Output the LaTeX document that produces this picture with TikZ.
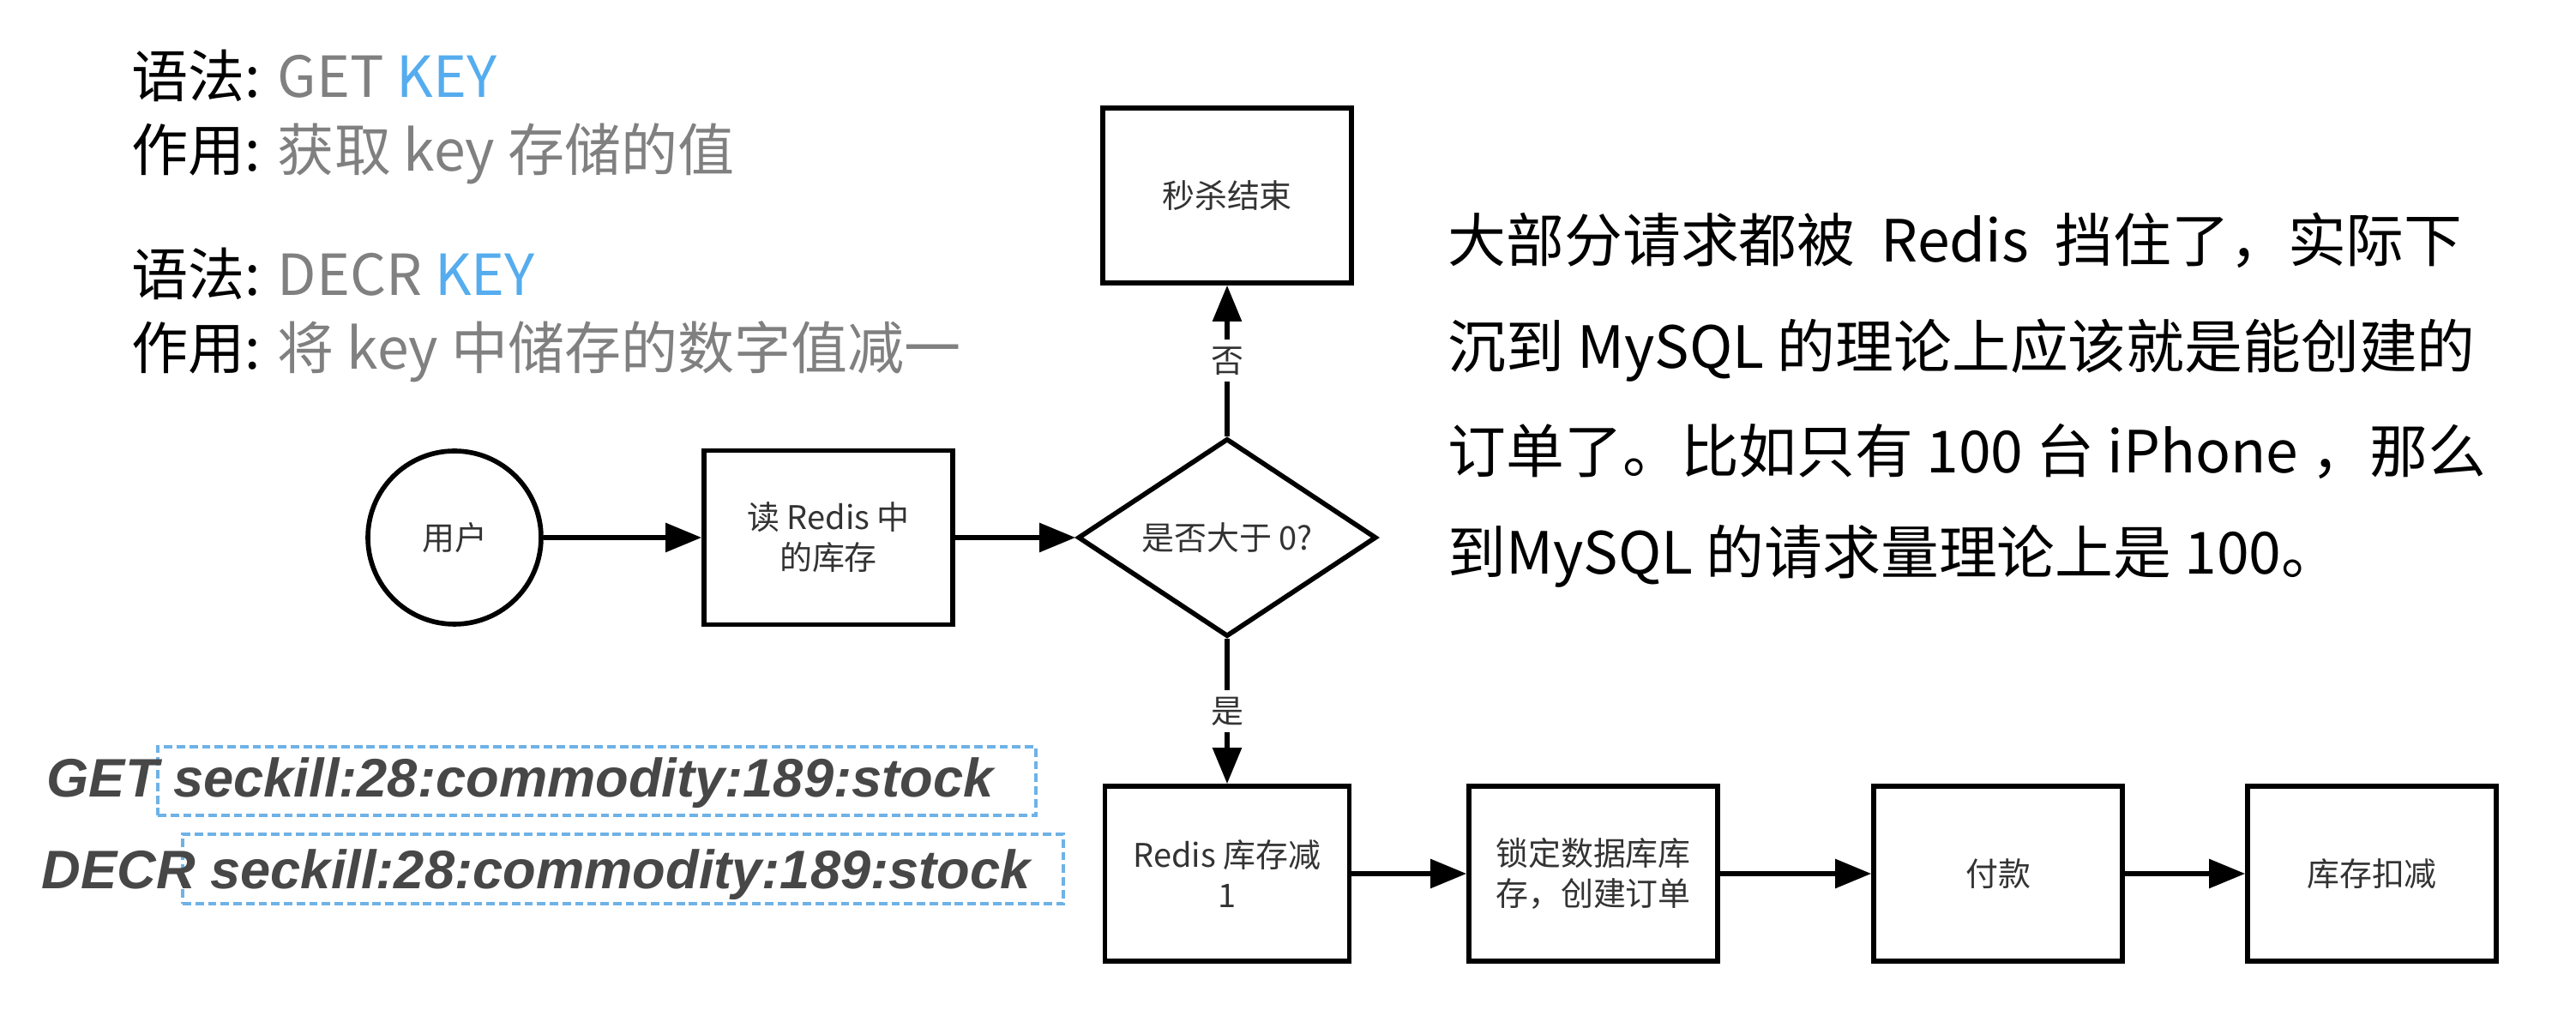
\documentclass[tikz,border=0pt]{standalone}
\usepackage{fontspec}
\setmainfont{Noto Sans CJK SC}
\newfontfamily\codefont{Liberation Sans}
\usetikzlibrary{shapes.geometric, arrows.meta}
\definecolor{keyblue}{RGB}{85,172,238}
\definecolor{dashblue}{RGB}{110,178,230}
\definecolor{txtgray}{RGB}{128,128,128}
\definecolor{boxtext}{RGB}{51,51,51}

\begin{document}
\begin{tikzpicture}[
		flowbox/.style={draw, line width=1.6pt, minimum width=2.9cm, minimum height=2.04cm, align=center, text=boxtext, font=\fontsize{10.8}{13.4}\selectfont},
		flowarrow/.style={line width=1.6pt, -{Triangle[length=0.42cm, width=0.33cm]}},
		keybox/.style={draw=dashblue, line width=0.9pt, dash pattern=on 2.8pt off 1.4pt, inner sep=0pt},
		note/.style={anchor=base west, inner sep=0pt, font=\fontsize{18.8}{18.8}\selectfont},
		para/.style={anchor=base west, inner sep=0pt, font=\fontsize{19.3}{19.3}\selectfont},
		cmd/.style={anchor=base west, inner sep=0pt, text=black!72, font=\codefont\bfseries\itshape\fontsize{18}{18}\selectfont}
	]
	\useasboundingbox (0,0) rectangle (30.04,11.92);

	% syntax notes
	\node[note] (syntax1) at (1.53,10.78) {语法: \textcolor{txtgray}{GET} \textcolor{keyblue}{KEY}};
	\node[note] (usage1) at (1.53,9.92) {作用: \textcolor{txtgray}{获取 key 存储的值}};
	\node[note] (syntax2) at (1.53,8.47) {语法: \textcolor{txtgray}{DECR} \textcolor{keyblue}{KEY}};
	\node[note] (usage2) at (1.53,7.61) {作用: \textcolor{txtgray}{将 key 中储存的数字值减一}};

	% commands
	\node[keybox, minimum width=10.24cm, minimum height=0.80cm] (getkey) at (6.96,2.81) {};
	\node[keybox, minimum width=10.27cm, minimum height=0.81cm] (decrkey) at (7.265,1.785) {};
	\node[cmd] (getcmd) at (0.54,2.62) {GET seckill:28:commodity:189:stock};
	\node[cmd] (decrcmd) at (0.48,1.55) {DECR seckill:28:commodity:189:stock};

	% remark
	\node[para] (line1) at (16.88,8.86) {大部分请求都被\ \ Redis\ \ 挡住了，实际下};
	\node[para] (line2) at (16.88,7.62) {沉到 MySQL 的理论上应该就是能创建的};
	\node[para] (line3) at (16.88,6.40) {订单了。比如只有 100 台 iPhone ，那么};
	\node[para] (line4) at (16.88,5.22) {到MySQL 的请求量理论上是 100。};

	% flow
	\node[circle, draw, line width=1.6pt, minimum size=2.02cm, text=boxtext, font=\fontsize{10.8}{13.4}\selectfont] (user) at (5.30,5.65) {用户};
	\node[flowbox, minimum height=2.03cm] (read) at (9.66,5.65) {读 Redis 中\\的库存};
	\node[diamond, draw, line width=1.6pt, aspect=1.5, inner sep=0pt, minimum width=3.48cm, minimum height=2.31cm, text=boxtext, font=\fontsize{10.8}{13.4}\selectfont] (check) at (14.31,5.65) {是否大于 0?};
	\node[flowbox] (stop) at (14.31,9.64) {秒杀结束};
	\node[flowbox, minimum width=2.85cm] (decr) at (14.31,1.73) {Redis 库存减\\1};
	\node[flowbox] (lock) at (18.58,1.73) {锁定数据库库\\存，创建订单};
	\node[flowbox] (pay) at (23.30,1.73) {付款};
	\node[flowbox] (deduct) at (27.66,1.73) {库存扣减};

	\begin{scope}[every node/.style={midway, fill=white, inner sep=0.8mm, text=boxtext, font=\fontsize{10.8}{12}\selectfont}]
		\draw[flowarrow] (user) -- (read);
		\draw[flowarrow] (read) -- (check);
		\draw[flowarrow] (check) -- (stop) node {否};
		\draw[flowarrow] (check) -- (decr) node {是};
		\draw[flowarrow] (decr) -- (lock);
		\draw[flowarrow] (lock) -- (pay);
		\draw[flowarrow] (pay) -- (deduct);
	\end{scope}
\end{tikzpicture}
\end{document}
